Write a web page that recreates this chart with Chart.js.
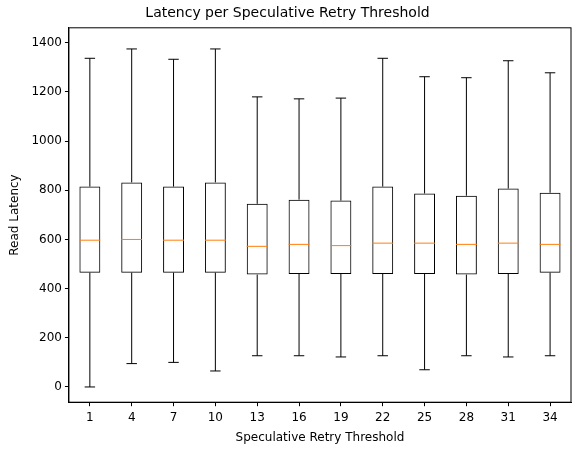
<!DOCTYPE html>
<html><head><script src="https://cdn.jsdelivr.net/npm/chart.js"></script>
<style>body{margin:0;background:#fff}#w{width:583px;height:455px}</style></head>
<body><div id="w"><canvas id="c"></canvas></div>
<script>
const categories=["1","4","7","10","13","16","19","22","25","28","31","34"];
const whiskerLow=[0,95,100,65,127,127,122,127,70,127,122,127];
const q1=[465,465,465,465,457,460,460,460,460,457,460,465];
const median=[597,600,597,597,572,580,575,585,585,580,585,580];
const q3=[815,832,815,832,745,762,758,815,787,778,807,790];
const whiskerHigh=[1337,1375,1333,1375,1180,1172,1175,1337,1262,1258,1327,1278];
const yTicks=[0,200,400,600,800,1000,1200,1400];
const boxPlugin={id:'box',afterDatasetsDraw(ch){
 const c=ch.ctx,y=ch.scales.y,meta=ch.getDatasetMeta(0);
 c.save();c.lineWidth=1;
 meta.data.forEach((b,i)=>{
  const cx=b.x,hw=b.width/2,cw=hw/2;
  c.strokeStyle='#000';c.beginPath();
  c.moveTo(cx,y.getPixelForValue(q1[i]));c.lineTo(cx,y.getPixelForValue(whiskerLow[i]));
  c.moveTo(cx-cw,y.getPixelForValue(whiskerLow[i]));c.lineTo(cx+cw,y.getPixelForValue(whiskerLow[i]));
  c.moveTo(cx,y.getPixelForValue(q3[i]));c.lineTo(cx,y.getPixelForValue(whiskerHigh[i]));
  c.moveTo(cx-cw,y.getPixelForValue(whiskerHigh[i]));c.lineTo(cx+cw,y.getPixelForValue(whiskerHigh[i]));
  c.stroke();
  c.strokeStyle='#ff7f0e';c.beginPath();
  c.moveTo(cx-hw,y.getPixelForValue(median[i]));c.lineTo(cx+hw,y.getPixelForValue(median[i]));c.stroke();
 });
 const a=ch.chartArea;c.strokeStyle='#000';c.strokeRect(a.left,a.top,a.right-a.left,a.bottom-a.top);
 c.restore();}};
new Chart(document.getElementById('c'),{type:'bar',
 data:{labels:categories,datasets:[{data:categories.map((_,i)=>[q1[i],q3[i]]),backgroundColor:'rgba(0,0,0,0)',borderColor:'#000',borderWidth:1,borderSkipped:false,barPercentage:0.5,categoryPercentage:1}]},
 options:{responsive:true,maintainAspectRatio:false,animation:false,
  layout:{padding:{left:4,right:12,top:0,bottom:6}},
  plugins:{legend:{display:false},tooltip:{enabled:false},
   title:{display:true,text:'Latency per Speculative Retry Threshold',color:'#000',font:{family:'DejaVu Sans',size:14,weight:'normal'},padding:{top:5,bottom:6}}},
  scales:{
   x:{grid:{display:true,offset:false,drawOnChartArea:false,tickLength:4,color:'#000'},border:{color:'#000'},
      ticks:{color:'#000',font:{family:'DejaVu Sans',size:12},padding:4},
      title:{display:true,text:'Speculative Retry Threshold',color:'#000',font:{family:'DejaVu Sans',size:12},padding:{top:2}}},
   y:{min:-62,max:1461,afterBuildTicks:ax=>{ax.ticks=yTicks.map(v=>({value:v}));},
      grid:{display:true,drawOnChartArea:false,tickLength:4,color:'#000'},border:{color:'#000'},
      ticks:{color:'#000',font:{family:'DejaVu Sans',size:12},callback:v=>String(v)},
      title:{display:true,text:'Read Latency',color:'#000',font:{family:'DejaVu Sans',size:12},padding:{bottom:6}}}}},
 plugins:[boxPlugin]});
</script></body></html>
